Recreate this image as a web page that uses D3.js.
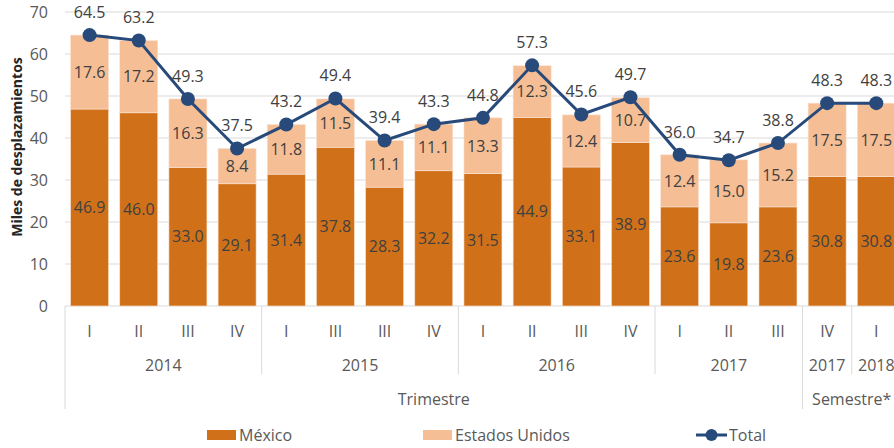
<!DOCTYPE html>
<html>
<head>
<meta charset="utf-8">
<script src="https://cdn.jsdelivr.net/npm/d3@7/dist/d3.min.js"></script>
<style>
  html, body { margin: 0; padding: 0; background: #fff; }
  svg { display: block; font-family: "Open Sans", "Noto Sans", sans-serif; }
</style>
</head>
<body>
<svg id="chart" width="894" height="448"></svg>
<script>
// ---- Data ----
const quarters = ["I", "II", "III", "IV", "I", "III", "III", "IV", "I", "II", "III", "IV", "I", "II", "III", "IV", "I"];
const years = ["2014", "2014", "2014", "2014", "2015", "2015", "2015", "2015", "2016", "2016", "2016", "2016", "2017", "2017", "2017", "2017", "2018"];
const periods = ["Trimestre", "Trimestre", "Trimestre", "Trimestre", "Trimestre", "Trimestre", "Trimestre", "Trimestre", "Trimestre", "Trimestre", "Trimestre", "Trimestre", "Trimestre", "Trimestre", "Trimestre", "Semestre*", "Semestre*"];
const mexico = [46.9, 46.0, 33.0, 29.1, 31.4, 37.8, 28.3, 32.2, 31.5, 44.9, 33.1, 38.9, 23.6, 19.8, 23.6, 30.8, 30.8];
const estadosUnidos = [17.6, 17.2, 16.3, 8.4, 11.8, 11.5, 11.1, 11.1, 13.3, 12.3, 12.4, 10.7, 12.4, 15.0, 15.2, 17.5, 17.5];
const total = [64.5, 63.2, 49.3, 37.5, 43.2, 49.4, 39.4, 43.3, 44.8, 57.3, 45.6, 49.7, 36.0, 34.7, 38.8, 48.3, 48.3];
const yTicks = [0, 10, 20, 30, 40, 50, 60, 70];
const seriesNames = ["México", "Estados Unidos", "Total"];
const yTitle = "Miles de desplazamientos";

// ---- Layout ----
const FONT = "Open Sans, Noto Sans, sans-serif";
const svg = d3.select("#chart");
const plotLeft = 65, step = 49.17, n = quarters.length;
const plotRight = plotLeft + step * n;
const plotTop = 12, plotBottom = 306;
const colMex = "#D0711A", colEU = "#F5BE95", colTot = "#274A7A";
const gridCol = "#D9D9D9", txtCol = "#404040", axisTxt = "#595959";

const x = d3.scaleBand().domain(d3.range(n)).range([plotLeft, plotRight])
  .paddingInner(0.227).paddingOuter(0.1135);
const y = d3.scaleLinear().domain([0, 70]).range([plotBottom, plotTop]);

// gridlines
svg.append("g").selectAll("line").data(yTicks).join("line")
  .attr("x1", plotLeft).attr("x2", plotRight)
  .attr("y1", d => y(d)).attr("y2", d => y(d))
  .attr("stroke", gridCol).attr("stroke-width", 1);

// y axis tick labels
const yAxis = d3.axisLeft(y).tickValues(yTicks).tickSize(0).tickPadding(0).tickFormat(d3.format("d"));
const ya = svg.append("g").attr("transform", `translate(${plotLeft - 17},0)`).call(yAxis);
ya.attr("font-family", FONT);
ya.select(".domain").remove();
ya.selectAll("text").attr("font-size", 16).attr("fill", axisTxt);

// y title
svg.append("text")
  .attr("transform", `translate(22,147) rotate(-90)`)
  .attr("text-anchor", "middle")
  .attr("font-size", 14).attr("font-weight", "bold").attr("fill", "#262626")
  .text(yTitle);

// stacked bars
const rows = d3.range(n).map(i => ({ i, mex: mexico[i], eu: estadosUnidos[i] }));
const stack = d3.stack().keys(["mex", "eu"])(rows);
const colors = [colMex, colEU];
stack.forEach((layer, k) => {
  svg.append("g").selectAll("rect").data(layer).join("rect")
    .attr("x", d => x(d.data.i))
    .attr("width", x.bandwidth())
    .attr("y", d => y(d[1]))
    .attr("height", d => y(d[0]) - y(d[1]))
    .attr("fill", colors[k])
    .attr("stroke", "#fbe3d3").attr("stroke-width", 0.6);
  svg.append("g").selectAll("text").data(layer).join("text")
    .attr("x", d => x(d.data.i) + x.bandwidth() / 2)
    .attr("y", d => (y(d[0]) + y(d[1])) / 2)
    .attr("dy", "0.36em")
    .attr("text-anchor", "middle")
    .attr("font-size", 16).attr("fill", txtCol)
    .text(d => d3.format(".1f")(d[1] - d[0]));
});

// total line
const cx = i => x(i) + x.bandwidth() / 2;
const line = d3.line().x((d, i) => cx(i)).y(d => y(d));
svg.append("path").datum(total).attr("d", line)
  .attr("fill", "none").attr("stroke", colTot).attr("stroke-width", 3);
svg.append("g").selectAll("circle").data(total).join("circle")
  .attr("cx", (d, i) => cx(i)).attr("cy", d => y(d)).attr("r", 7)
  .attr("fill", colTot);
svg.append("g").selectAll("text").data(total).join("text")
  .attr("x", (d, i) => cx(i)).attr("y", d => y(d) - 23)
  .attr("dy", "0.36em")
  .attr("text-anchor", "middle")
  .attr("font-size", 16).attr("fill", txtCol)
  .text(d => d3.format(".1f")(d));

// category axis (hierarchical)
const ax = svg.append("g");
ax.selectAll("text.q").data(quarters).join("text")
  .attr("x", (d, i) => cx(i)).attr("y", 331).attr("dy", "0.36em")
  .attr("text-anchor", "middle").attr("font-size", 16).attr("fill", axisTxt)
  .text(d => d);

function groups(arr, keyFn) {
  const out = [];
  arr.forEach((v, i) => {
    const k = keyFn(i);
    if (out.length && out[out.length - 1].key === k) out[out.length - 1].end = i;
    else out.push({ key: k, label: v, start: i, end: i });
  });
  return out;
}
const yearGroups = groups(years, i => periods[i] + years[i]);
const periodGroups = groups(periods, i => periods[i]);
const edge = i => plotLeft + step * i;

ax.selectAll("text.y").data(yearGroups).join("text")
  .attr("x", g => (edge(g.start) + edge(g.end + 1)) / 2).attr("y", 365).attr("dy", "0.36em")
  .attr("text-anchor", "middle").attr("font-size", 16).attr("fill", axisTxt)
  .text(g => g.label);
ax.selectAll("text.p").data(periodGroups).join("text")
  .attr("x", g => (edge(g.start) + edge(g.end + 1)) / 2).attr("y", 399).attr("dy", "0.36em")
  .attr("text-anchor", "middle").attr("font-size", 16).attr("fill", axisTxt)
  .text(g => g.label);

// separators
const periodStarts = new Set(periodGroups.map(g => g.start));
ax.selectAll("line.ys").data(yearGroups).join("line")
  .attr("x1", g => edge(g.start)).attr("x2", g => edge(g.start))
  .attr("y1", plotBottom).attr("y2", g => periodStarts.has(g.start) ? 409 : 374)
  .attr("stroke", gridCol).attr("stroke-width", 1);

// legend
const lg = svg.append("g").attr("font-size", 16).attr("fill", axisTxt);
lg.append("rect").attr("x", 207).attr("y", 430).attr("width", 29).attr("height", 10).attr("fill", colMex);
lg.append("text").attr("x", 239).attr("y", 435).attr("dy", "0.36em").attr("fill", axisTxt).text(seriesNames[0]);
lg.append("rect").attr("x", 423).attr("y", 430).attr("width", 29).attr("height", 10).attr("fill", colEU);
lg.append("text").attr("x", 455).attr("y", 435).attr("dy", "0.36em").attr("fill", axisTxt).text(seriesNames[1]);
lg.append("line").attr("x1", 696).attr("x2", 727).attr("y1", 435).attr("y2", 435)
  .attr("stroke", colTot).attr("stroke-width", 3);
lg.append("circle").attr("cx", 711.5).attr("cy", 435).attr("r", 6).attr("fill", colTot);
lg.append("text").attr("x", 729).attr("y", 435).attr("dy", "0.36em").attr("fill", axisTxt).text(seriesNames[2]);
</script>
</body>
</html>
